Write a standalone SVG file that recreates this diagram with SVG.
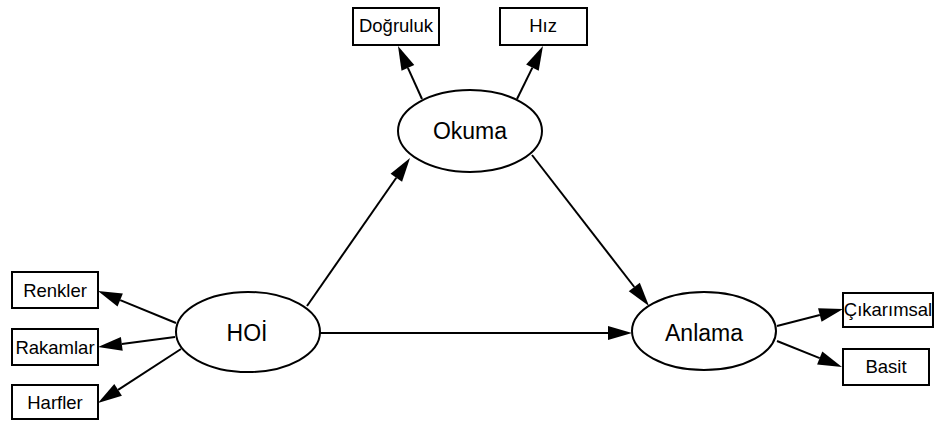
<svg xmlns="http://www.w3.org/2000/svg" width="935" height="421" viewBox="0 0 935 421">
<style>
.box{fill:#fff;stroke:#000;stroke-width:2}
.ell{fill:#fff;stroke:#000;stroke-width:2}
.edge{fill:none;stroke:#000;stroke-width:2}
.bt{font-family:"Liberation Sans",Arial,sans-serif;font-size:18.5px;text-anchor:middle;fill:#000}
.et{font-family:"Liberation Sans",Arial,sans-serif;font-size:23px;text-anchor:middle;fill:#000}
</style>
<defs>
<marker id="arr" markerUnits="userSpaceOnUse" markerWidth="26" markerHeight="16" refX="0" refY="7" orient="auto" overflow="visible">
<path d="M0,0 L24,7 L0,14 z" fill="#000"/>
</marker>
</defs>
<rect width="935" height="421" fill="#fff"/>
<g id="edges">
<line class="edge" x1="176" y1="323" x2="120.2" y2="300.1" marker-end="url(#arr)"/>
<line class="edge" x1="175" y1="337" x2="121.8" y2="343.9" marker-end="url(#arr)"/>
<line class="edge" x1="181" y1="349" x2="118.1" y2="389.9" marker-end="url(#arr)"/>
<line class="edge" x1="307" y1="306" x2="396.3" y2="177.7" marker-end="url(#arr)"/>
<line class="edge" x1="320" y1="333" x2="608" y2="333" marker-end="url(#arr)"/>
<line class="edge" x1="532" y1="155" x2="634.3" y2="287" marker-end="url(#arr)"/>
<line class="edge" x1="422" y1="99" x2="407.9" y2="67.9" marker-end="url(#arr)"/>
<line class="edge" x1="517" y1="99" x2="532.4" y2="67.6" marker-end="url(#arr)"/>
<line class="edge" x1="777" y1="326" x2="819.8" y2="315" marker-end="url(#arr)"/>
<line class="edge" x1="777" y1="341" x2="819.7" y2="358.1" marker-end="url(#arr)"/>
</g>
<g id="hoi"><ellipse class="ell" cx="248" cy="332" rx="72" ry="40"/><text class="et" x="247" y="341">HOİ</text></g>
<g id="okuma"><ellipse class="ell" cx="470" cy="131" rx="72" ry="41"/><text class="et" x="470" y="139">Okuma</text></g>
<g id="anlama"><ellipse class="ell" cx="704" cy="331" rx="72" ry="39"/><text class="et" x="704" y="341">Anlama</text></g>
<g id="renkler"><rect class="box" x="12" y="272" width="86" height="36"/><text class="bt" x="55" y="297">Renkler</text></g>
<g id="rakamlar"><rect class="box" x="12" y="329" width="86" height="36"/><text class="bt" x="55" y="354">Rakamlar</text></g>
<g id="harfler"><rect class="box" x="12" y="385" width="86" height="34"/><text class="bt" x="55" y="409">Harfler</text></g>
<g id="dogruluk"><rect class="box" x="353" y="8" width="86" height="37"/><text class="bt" x="396" y="32">Doğruluk</text></g>
<g id="hiz"><rect class="box" x="500" y="8" width="87" height="37"/><text class="bt" x="543" y="32">Hız</text></g>
<g id="cikarimsal"><rect class="box" x="843" y="293" width="90" height="34"/><text class="bt" x="888" y="316">Çıkarımsal</text></g>
<g id="basit"><rect class="box" x="843" y="349" width="86" height="36"/><text class="bt" x="886" y="373">Basit</text></g>
</svg>
